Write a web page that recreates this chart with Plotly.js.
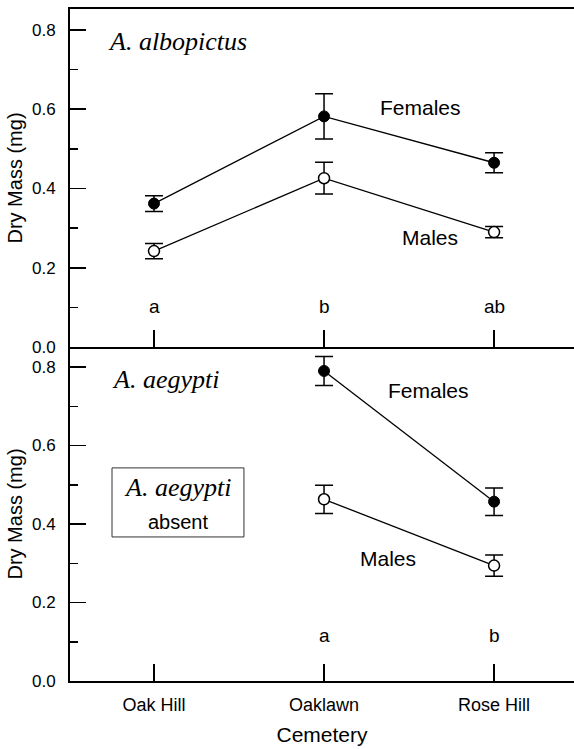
<!DOCTYPE html>
<html>
<head>
<meta charset="utf-8">
<script src="https://cdn.plot.ly/plotly-3.0.1.min.js"></script>
<style>html,body{margin:0;padding:0;background:#fff;}#chart{width:574px;height:749px;}</style>
</head>
<body>
<div id="chart"></div>
<script>
// ---- data ----
var cemeteries = ["Oak Hill", "Oaklawn", "Rose Hill"];
var aegyptiSites = ["Oaklawn", "Rose Hill"];

var albFemales = [0.362, 0.582, 0.465];
var albFemalesSE = [0.020, 0.057, 0.025];
var albMales = [0.242, 0.426, 0.290];
var albMalesSE = [0.019, 0.040, 0.014];

var aegFemales = [0.790, 0.457];
var aegFemalesSE = [0.037, 0.035];
var aegMales = [0.463, 0.294];
var aegMalesSE = [0.036, 0.027];

var albLetters = ["a", "b", "ab"];
var aegLetters = ["a", "b"];

var yTickVals = [0, 0.2, 0.4, 0.6, 0.8];
var yTickText = ["0.0", "0.2", "0.4", "0.6", "0.8"];

// ---- styles ----
var SANS = "Liberation Sans, Arial, sans-serif";
var SERIF = "Liberation Serif, Times New Roman, serif";

function errBar(arr) {
  return {type: "data", array: arr, visible: true, color: "#000", thickness: 1.5, width: 9};
}
var filled = {symbol: "circle", size: 11, color: "#000", line: {color: "#000", width: 1}};
var open = {symbol: "circle", size: 11, color: "#fff", line: {color: "#000", width: 1.5}};
var lineStyle = {color: "#000", width: 1.3};

var traces = [
  {x: cemeteries, y: albFemales, error_y: errBar(albFemalesSE), mode: "lines+markers",
   marker: filled, line: lineStyle, xaxis: "x2", yaxis: "y2", showlegend: false, cliponaxis: false},
  {x: cemeteries, y: albMales, error_y: errBar(albMalesSE), mode: "lines+markers",
   marker: open, line: lineStyle, xaxis: "x2", yaxis: "y2", showlegend: false, cliponaxis: false},
  {x: aegyptiSites, y: aegFemales, error_y: errBar(aegFemalesSE), mode: "lines+markers",
   marker: filled, line: lineStyle, xaxis: "x", yaxis: "y", showlegend: false, cliponaxis: false},
  {x: aegyptiSites, y: aegMales, error_y: errBar(aegMalesSE), mode: "lines+markers",
   marker: open, line: lineStyle, xaxis: "x", yaxis: "y", showlegend: false, cliponaxis: false}
];

var xRange = [-0.494, 2.47];
function yAxis(domain, top, anchor) {
  return {
    domain: domain, range: [0, top], anchor: anchor,
    showline: true, linecolor: "#000", linewidth: 2,
    ticks: "inside", ticklen: 16, tickwidth: 1.8, tickcolor: "#000",
    tickvals: yTickVals, ticktext: yTickText,
    minor: {ticks: "inside", ticklen: 8, tickwidth: 1.5, tickcolor: "#000", dtick: 0.1, showgrid: false},
    showgrid: false, zeroline: false,
    ticklabelstandoff: 9,
    tickfont: {family: SANS, size: 17, color: "#000"},
    title: {text: "Dry Mass (mg)", font: {family: SANS, size: 20, color: "#000"}, standoff: 4}
  };
}

var annotations = [];
function ann(text, x, y, xa, ya, font, xanchor) {
  annotations.push({text: text, x: x, y: y, xref: xa, yref: ya, showarrow: false,
    xanchor: xanchor || "center", yanchor: "middle", font: font});
}
var italicFont = {family: SERIF, size: 26, color: "#000", style: "italic"};
var labelFont = {family: SANS, size: 21, color: "#000"};
var letterFont = {family: SANS, size: 19, color: "#000"};

ann("A. albopictus", -0.28, 0.772, "x2", "y2", italicFont, "left");
ann("Females", 1.565, 0.604, "x2", "y2", labelFont);
ann("Males", 1.624, 0.277, "x2", "y2", labelFont);
for (var i = 0; i < cemeteries.length; i++) ann(albLetters[i], i, 0.103, "x2", "y2", letterFont);

ann("A. aegypti", -0.26, 0.767, "x", "y", italicFont, "left");
ann("Females", 1.612, 0.741, "x", "y", labelFont);
ann("Males", 1.376, 0.313, "x", "y", labelFont);
for (var j = 0; j < aegyptiSites.length; j++) ann(aegLetters[j], j + 1, 0.117, "x", "y", letterFont);

ann("A. aegypti", 0.141, 0.494, "x", "y", italicFont);
ann("absent", 0.141, 0.405, "x", "y", {family: SANS, size: 20, color: "#000"});

var layout = {
  width: 574, height: 749,
  margin: {l: 70, r: 0, t: 9, b: 68},
  paper_bgcolor: "#fff", plot_bgcolor: "#fff",
  showlegend: false,
  xaxis: {
    domain: [0, 1], anchor: "y", type: "category", categoryarray: cemeteries, range: xRange,
    showline: true, linecolor: "#000", linewidth: 2,
    ticks: "inside", ticklen: 17, tickwidth: 1.8, tickcolor: "#000",
    showgrid: false, zeroline: false, ticklabelstandoff: 6,
    tickfont: {family: SANS, size: 18, color: "#000"},
    title: {text: "Cemetery", font: {family: SANS, size: 21, color: "#000"}, standoff: 14}
  },
  xaxis2: {
    domain: [0, 1], anchor: "y2", type: "category", categoryarray: cemeteries, range: xRange,
    showline: true, mirror: true, linecolor: "#000", linewidth: 2,
    ticks: "inside", ticklen: 17, tickwidth: 1.8, tickcolor: "#000",
    showticklabels: false, showgrid: false, zeroline: false
  },
  yaxis: yAxis([0, 0.497], 0.851, "x"),
  yaxis2: yAxis([0.497, 1], 0.853, "x2"),
  shapes: [{type: "rect", xref: "x", yref: "y", x0: -0.247, x1: 0.529, y0: 0.367, y1: 0.543,
    line: {color: "#333", width: 1}, fillcolor: "rgba(0,0,0,0)"}],
  annotations: annotations
};

Plotly.newPlot("chart", traces, layout, {displayModeBar: false, staticPlot: true});
</script>
</body>
</html>
